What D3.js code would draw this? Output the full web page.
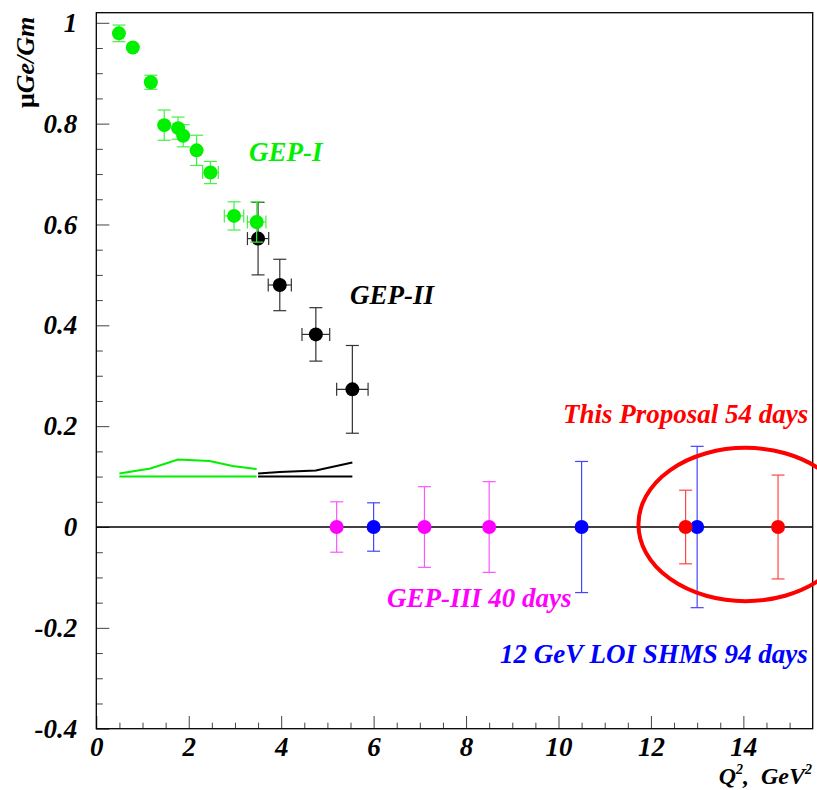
<!DOCTYPE html>
<meta charset="utf-8">
<head>
<script src="https://d3js.org/d3.v7.min.js"></script>
<style>
  body { margin: 0; background: #fff; }
  text { font-family: "Liberation Serif", "Times New Roman", serif; font-weight: bold; font-style: italic; }
</style>
</head>
<body>
<div id="my_dataviz"></div>
<script>

// ---- data ----
// GEP-I (green)
var gep1Q  = [0.49, 0.79, 1.18, 1.47, 1.77, 1.88, 2.17, 2.47, 2.98, 3.47];
var gep1R  = [0.979, 0.951, 0.882, 0.797, 0.791, 0.776, 0.747, 0.703, 0.617, 0.605];
var gep1dR = [0.0165, 0.005, 0.014, 0.03, 0.022, 0.022, 0.03, 0.022, 0.028, 0.04];
var gep1dQ = [0.05, 0.05, 0.13, 0.13, 0.13, 0.13, 0.14, 0.17, 0.21, 0.2];
// GEP-I systematic band
var gep1SysQ = [0.5, 1.17, 1.77, 2.45, 2.95, 3.47];
var gep1Sys  = [0.106, 0.116, 0.134, 0.131, 0.121, 0.115];

// GEP-II (black)
var gep2Q  = [3.50, 3.97, 4.75, 5.54];
var gep2R  = [0.572, 0.480, 0.382, 0.273];
var gep2dR = [0.072, 0.051, 0.053, 0.087];
var gep2dQ = [0.23, 0.25, 0.30, 0.34];
var gep2SysQ = [3.50, 3.97, 4.75, 5.54];
var gep2Sys  = [0.106, 0.109, 0.112, 0.128];
var sysBase = 0.1;

// projections, plotted at zero
var gep3Q  = [5.2, 7.1, 8.5];
var gep3dR = [0.05, 0.08, 0.09];
var loiQ   = [6.0, 10.5, 13.0];
var loidR  = [0.048, 0.13, 0.16];
var propQ  = [12.75, 14.75];
var propdR = [0.073, 0.103];

// highlight ellipse (data units)
var ellipseC = {q: 14.05, r: 0.005};
var ellipseHalf = {q: 2.32, r: 0.152};

// axes
var xTicks = [0, 2, 4, 6, 8, 10, 12, 14];
var xTickLabels = ["0", "2", "4", "6", "8", "10", "12", "14"];
var yTicks = [-0.4, -0.2, 0, 0.2, 0.4, 0.6, 0.8, 1];
var yTickLabels = ["-0.4", "-0.2", "0", "0.2", "0.4", "0.6", "0.8", "1"];

// ---- layout ----
var W = 817, H = 790;
var frame = {left: 96.3, right: 812.7, top: 12.7, bottom: 728.7};

var svg = d3.select("#my_dataviz")
  .append("svg")
    .attr("width", W)
    .attr("height", H);

var x = d3.scaleLinear().domain([0, 15.5]).range([frame.left, frame.right]);
var y = d3.scaleLinear().domain([-0.4, 1.02]).range([frame.bottom, frame.top]);

// minor ticks
var xMinor = d3.range(0, 15.5, 0.5).filter(function(v) { return v % 2 !== 0; });
var yMinor = d3.range(-0.4, 1.02, 0.05).map(function(v) { return +v.toFixed(2); })
  .filter(function(v) { return Math.abs(Math.round(v * 5) - v * 5) > 1e-6; });

svg.append("g")
  .attr("transform", "translate(0," + frame.bottom + ")")
  .call(d3.axisBottom(x).tickValues(xMinor).tickFormat("").tickSizeInner(-6).tickSizeOuter(0))
  .call(function(g) { g.select(".domain").remove(); g.selectAll("line").attr("stroke", "#444"); });

svg.append("g")
  .attr("transform", "translate(0," + frame.bottom + ")")
  .call(d3.axisBottom(x).tickValues(xTicks)
    .tickFormat(function(d, i) { return xTickLabels[i]; })
    .tickSizeInner(-12.7).tickSizeOuter(0).tickPadding(8))
  .call(function(g) {
    g.select(".domain").remove();
    g.selectAll("line").attr("stroke", "#444");
    g.selectAll("text").attr("fill", "#000").style("font-size", "27px");
  });

svg.append("g")
  .attr("transform", "translate(" + frame.left + ",0)")
  .call(d3.axisLeft(y).tickValues(yMinor).tickFormat("").tickSizeInner(-6.5).tickSizeOuter(0))
  .call(function(g) { g.select(".domain").remove(); g.selectAll("line").attr("stroke", "#444"); });

svg.append("g")
  .attr("transform", "translate(" + frame.left + ",0)")
  .call(d3.axisLeft(y).tickValues(yTicks)
    .tickFormat(function(d, i) { return yTickLabels[i]; })
    .tickSizeInner(-13).tickSizeOuter(0).tickPadding(19))
  .call(function(g) {
    g.select(".domain").remove();
    g.selectAll("line").attr("stroke", "#444");
    g.selectAll("text").attr("fill", "#000").style("font-size", "27px");
  });

// frame
svg.append("rect")
  .attr("x", frame.left).attr("y", frame.top)
  .attr("width", frame.right - frame.left)
  .attr("height", frame.bottom - frame.top)
  .attr("fill", "none").attr("stroke", "#000").attr("stroke-width", 1.3);

// zero line
svg.append("line")
  .attr("x1", x(0)).attr("x2", x(15.5))
  .attr("y1", y(0)).attr("y2", y(0))
  .attr("stroke", "#000").attr("stroke-width", 1.3);

// systematic bands
function drawBand(qs, vals, color) {
  svg.append("line")
    .attr("x1", x(qs[0])).attr("x2", x(qs[qs.length - 1]))
    .attr("y1", y(sysBase)).attr("y2", y(sysBase))
    .attr("stroke", color).attr("stroke-width", 2);
  svg.append("path")
    .datum(qs.map(function(q, i) { return [q, vals[i]]; }))
    .attr("fill", "none").attr("stroke", color).attr("stroke-width", 2)
    .attr("d", d3.line().x(function(d) { return x(d[0]); }).y(function(d) { return y(d[1]); }));
}
drawBand(gep1SysQ, gep1Sys, "#00f000");
drawBand(gep2SysQ, gep2Sys, "#000");

// points with error bars
var R = 7, CAP = 6.5;
function drawSeries(qs, rs, drs, dqs, color, errColor) {
  var pts = qs.map(function(q, i) {
    return {q: q, r: rs ? rs[i] : 0, dr: drs[i], dq: dqs ? dqs[i] : 0};
  });
  var g = svg.append("g").attr("stroke", errColor).attr("stroke-width", 1.2);
  pts.forEach(function(d) {
    var cx = x(d.q), cy = y(d.r);
    var y1 = y(d.r + d.dr), y2 = y(d.r - d.dr);
    if (cy - y1 > R) {
      g.append("line").attr("x1", cx).attr("x2", cx).attr("y1", y1).attr("y2", y2);
      g.append("line").attr("x1", cx - CAP).attr("x2", cx + CAP).attr("y1", y1).attr("y2", y1);
      g.append("line").attr("x1", cx - CAP).attr("x2", cx + CAP).attr("y1", y2).attr("y2", y2);
    }
    var x1 = x(d.q - d.dq), x2 = x(d.q + d.dq);
    if (cx - x1 > R) {
      g.append("line").attr("x1", x1).attr("x2", x2).attr("y1", cy).attr("y2", cy);
      g.append("line").attr("x1", x1).attr("x2", x1).attr("y1", cy - CAP).attr("y2", cy + CAP);
      g.append("line").attr("x1", x2).attr("x2", x2).attr("y1", cy - CAP).attr("y2", cy + CAP);
    }
  });
  svg.append("g")
    .selectAll("circle")
    .data(pts)
    .enter()
    .append("circle")
      .attr("cx", function(d) { return x(d.q); })
      .attr("cy", function(d) { return y(d.r); })
      .attr("r", R)
      .attr("fill", color);
}

drawSeries(gep2Q, gep2R, gep2dR, gep2dQ, "#000", "#333");
drawSeries(gep1Q, gep1R, gep1dR, gep1dQ, "#00f000", "#44f044");
drawSeries(gep3Q, null, gep3dR, null, "#ff00ff", "#ff55ff");
drawSeries(loiQ, null, loidR, null, "#0000ff", "#4444ff");
drawSeries(propQ, null, propdR, null, "#ff0000", "#ff4444");

// ellipse around this proposal
svg.append("ellipse")
  .attr("cx", x(ellipseC.q)).attr("cy", y(ellipseC.r))
  .attr("rx", x(ellipseHalf.q) - x(0))
  .attr("ry", y(0) - y(ellipseHalf.r))
  .attr("fill", "none").attr("stroke", "#ff0000").attr("stroke-width", 4);

// labels
function label(txt, px, py, color) {
  svg.append("text")
    .attr("x", px).attr("y", py)
    .attr("fill", color)
    .style("font-size", "27px")
    .text(txt);
}
label("GEP-I", 249, 161, "#00f000");
label("GEP-II", 350, 304, "#000");
label("This Proposal 54 days", 563, 423, "#ff0000");
label("GEP-III 40 days", 387, 607, "#ff00ff");
label("12 GeV LOI SHMS 94 days", 500, 663, "#0000ff");

// axis titles
var yTitle = svg.append("text")
  .attr("transform", "translate(34,108)rotate(-90)")
  .attr("text-anchor", "start")
  .style("font-size", "26px");
yTitle.append("tspan").style("font-style", "normal").text("\u03bc");
yTitle.append("tspan").text("Ge/Gm");

var xTitle = svg.append("text")
  .attr("x", 812).attr("y", 784)
  .attr("text-anchor", "end")
  .style("font-size", "24px");
xTitle.append("tspan").text("Q");
xTitle.append("tspan").attr("dy", -10).style("font-size", "14px").text("2");
xTitle.append("tspan").attr("dy", 10).text(",\u00a0 GeV");
xTitle.append("tspan").attr("dy", -10).style("font-size", "14px").text("2");

</script>
</body>
</html>
